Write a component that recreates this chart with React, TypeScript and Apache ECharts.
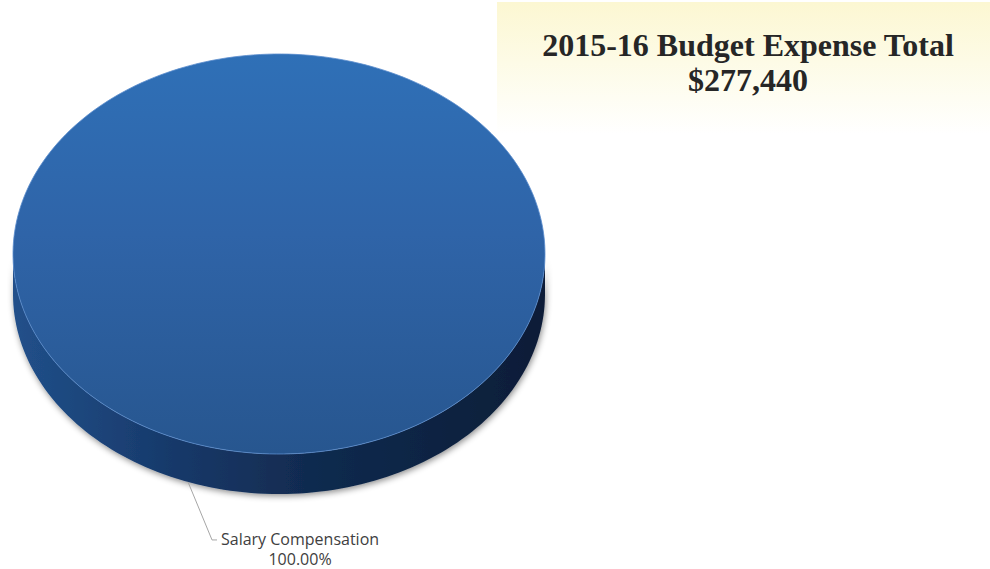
import React, { useEffect, useRef } from "react";
import * as echarts from "echarts";

const categories = ["Salary Compensation"];
const values = [277440];
const fiscalYear = "2015-16";

const total = values.reduce((a, b) => a + b, 0);

function fmtMoney(v: number) {
  return "$" + v.toLocaleString("en-US");
}

export default function App() {
  const ref = useRef<HTMLDivElement>(null);
  useEffect(() => {
    document.body.style.margin = "0";
    const chart = echarts.init(ref.current!, null, { renderer: "svg" });
    const cx = 279;
    const cy = 254;
    const rx = 266;
    const ry = 200;
    const depth = 40;
    const startAngle = -Math.PI / 2 + (20 * Math.PI) / 180;
    const N = 240;

    const pt = (t: number, dy: number) => [cx + rx * Math.cos(t), cy + dy + ry * Math.sin(t)];
    const arc = (a: number, b: number, dy: number) => {
      const pts: number[][] = [];
      const n = Math.max(2, Math.ceil((Math.abs(b - a) / (2 * Math.PI)) * N));
      for (let k = 0; k <= n; k++) pts.push(pt(a + ((b - a) * k) / n, dy));
      return pts;
    };

    const renderItem = (params: any, api: any) => {
      const i = params.dataIndex;
      let cum = 0;
      for (let j = 0; j < i; j++) cum += values[j];
      const v = api.value(0);
      const a0 = startAngle + (cum / total) * Math.PI * 2;
      const a1 = a0 + (v / total) * Math.PI * 2;
      const full = v >= total;
      const children: any[] = [];

      // side (front half only)
      for (let n = -2; n <= 2; n++) {
        const lo = Math.max(a0, 2 * Math.PI * n);
        const hi = Math.min(a1, 2 * Math.PI * n + Math.PI);
        if (hi > lo) {
          const pts = arc(lo, hi, 0).concat(arc(hi, lo, depth));
          children.push({
            type: "polygon",
            shape: { points: pts },
            style: {
              fill: new echarts.graphic.LinearGradient(0, 0, 1, 0, [
                { offset: 0, color: "#21508a" },
                { offset: 0.3, color: "#17396a" },
                { offset: 0.55, color: "#112b50" },
                { offset: 1, color: "#0e1d37" },
              ]),
              shadowColor: "rgba(0,0,0,0.45)",
              shadowBlur: 6,
              shadowOffsetY: 2,
              shadowOffsetX: 1,
            },
          });
        }
      }

      const topPts = full ? arc(a0, a1, 0) : [[cx, cy]].concat(arc(a0, a1, 0));
      children.push({
        type: "polygon",
        shape: { points: topPts },
        style: {
          fill: new echarts.graphic.LinearGradient(0, 0, 0, 1, [
            { offset: 0, color: "#2f70b7" },
            { offset: 0.45, color: "#2f64a8" },
            { offset: 1, color: "#27568f" },
          ]),
          stroke: "rgba(90,140,205,0.8)",
          lineWidth: 1,
        },
      });

      // label with leader line
      const mid = (a0 + a1) / 2;
      const anchor = pt(mid, depth);
      const p1 = [anchor[0] + 24, anchor[1] + 58];
      const p2 = [p1[0] + 5, p1[1]];
      children.push({
        type: "polyline",
        shape: { points: [anchor, p1, p2] },
        style: { stroke: "#a6a6a6", lineWidth: 1, fill: null },
      });
      const pct = ((v / total) * 100).toFixed(2) + "%";
      children.push({
        type: "text",
        x: p2[0] + 83,
        y: p2[1] + 9,
        style: {
          text: categories[i] + "\n" + pct,
          fill: "#404040",
          font: "16px 'Open Sans'",
          align: "center",
          verticalAlign: "middle",
          lineHeight: 20,
        },
      });

      return { type: "group", children };
    };

    chart.setOption({
      animation: false,
      backgroundColor: "#ffffff",
      graphic: [
        {
          type: "rect",
          shape: { x: 497, y: 2, width: 493, height: 132 },
          style: {
            fill: new echarts.graphic.LinearGradient(0, 0, 0, 1, [
              { offset: 0, color: "#fcf7d2" },
              { offset: 0.45, color: "#fdfbe6" },
              { offset: 1, color: "#ffffff" },
            ]),
          },
          z: -10,
        },
      ],
      title: {
        text: fiscalYear + " Budget Expense Total\n" + fmtMoney(total),
        left: 743,
        top: 22,
        textAlign: "center",
        textStyle: {
          fontFamily: "'Liberation Serif', serif",
          fontWeight: "bold",
          fontSize: 32,
          lineHeight: 35,
          color: "#262626",
        },
      },
      series: [
        {
          type: "custom",
          coordinateSystem: "none",
          renderItem,
          data: values.map((v, i) => ({ name: categories[i], value: [v, i] })),
        },
      ],
    });
    return () => chart.dispose();
  }, []);
  return <div ref={ref} style={{ width: 990, height: 569 }} />;
}
